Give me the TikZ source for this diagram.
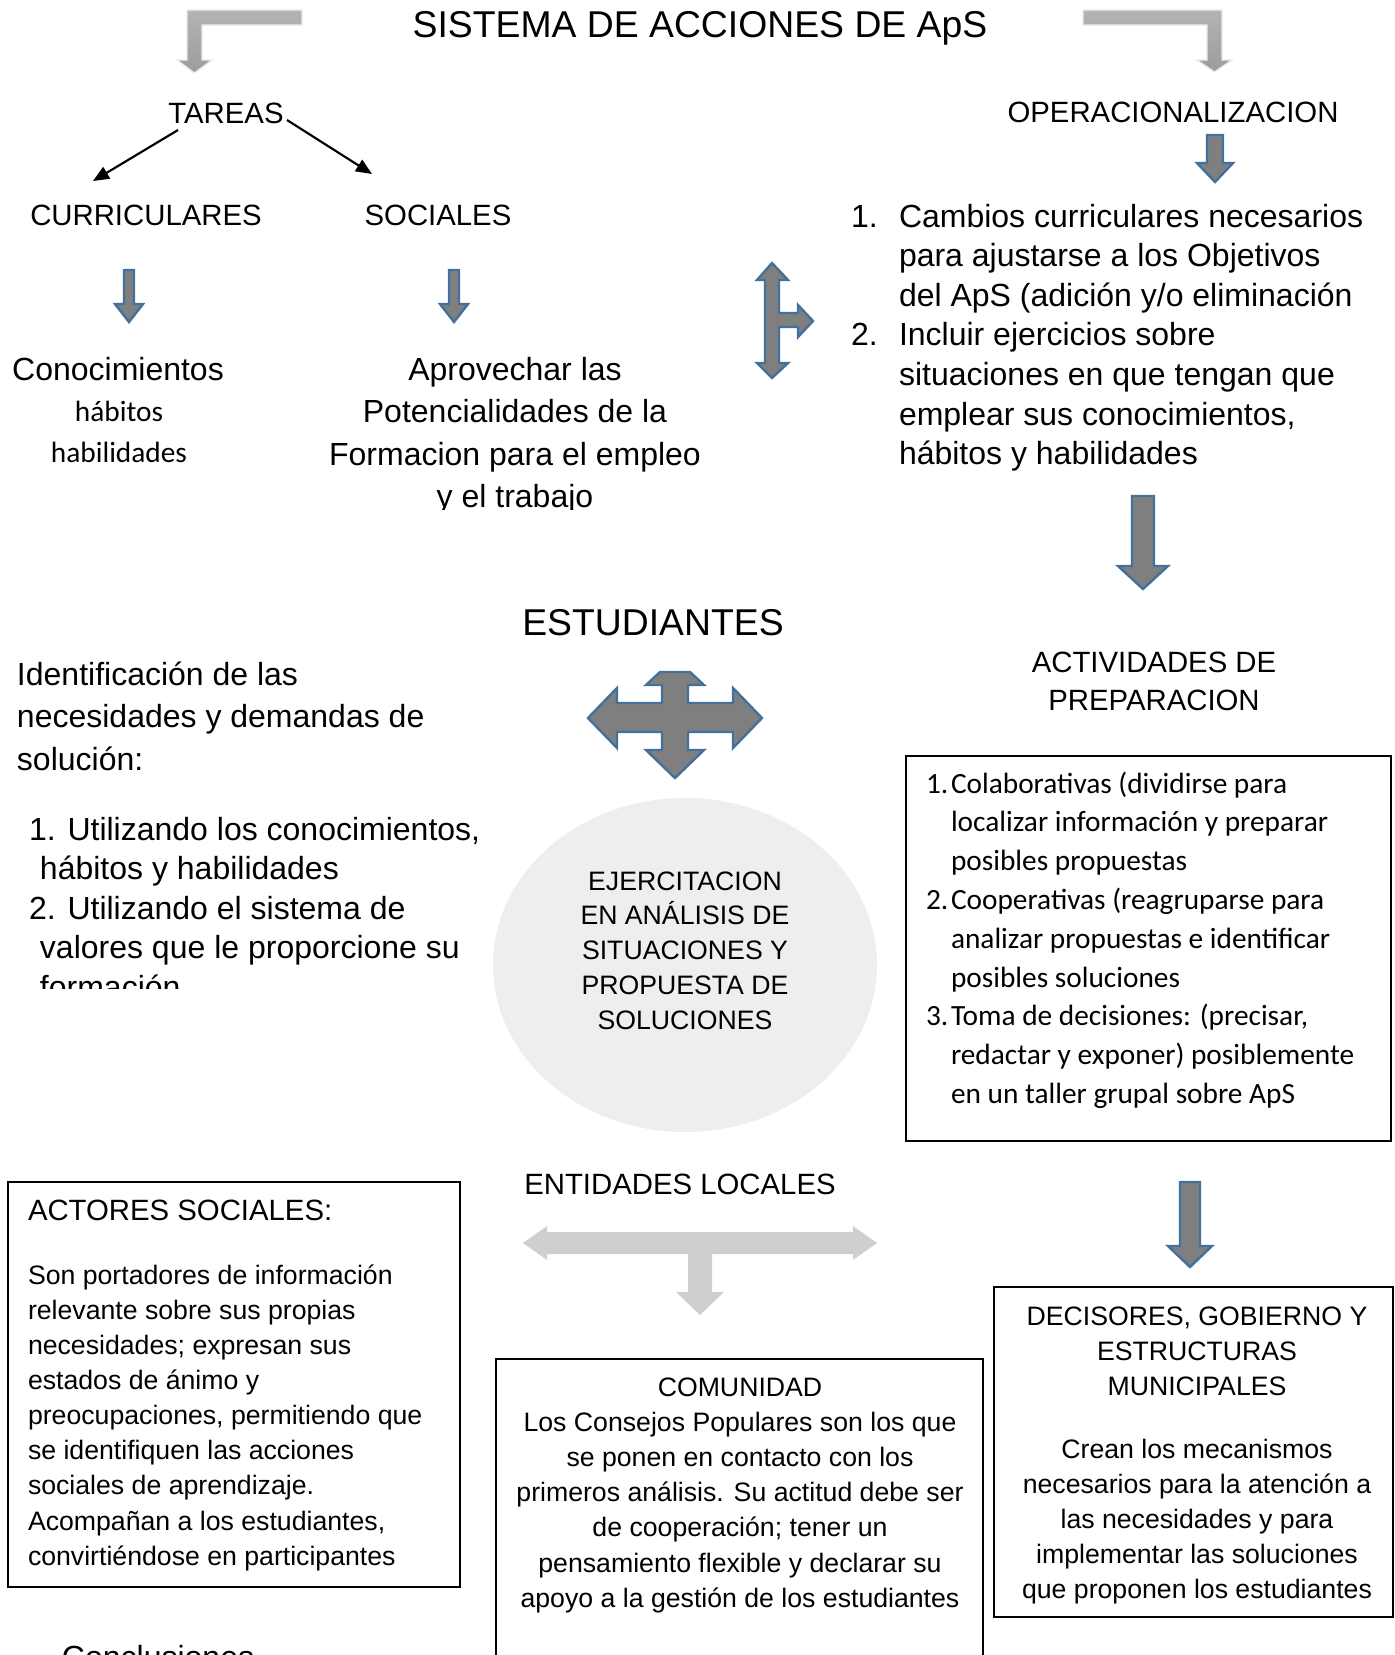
\documentclass[tikz,border=0pt]{standalone}
\usepackage{fontspec}
\setmainfont{Liberation Sans}
\newfontfamily\calfont{Carlito}
\usetikzlibrary{arrows.meta,shapes.geometric}
\definecolor{bluebd}{HTML}{41719C}
\definecolor{arrgray}{HTML}{7F7F7F}
\definecolor{lightarr}{HTML}{D0CED0}
\definecolor{ellfill}{HTML}{EEEEEE}
\definecolor{topgrayA}{HTML}{B4B4B4}
\definecolor{topgrayB}{HTML}{9C9C9C}
\begin{document}
\begin{tikzpicture}[x=0.375pt,y=-0.375pt,
  txt/.style={inner sep=0pt,outer sep=0pt,anchor=base},
  txtl/.style={inner sep=0pt,outer sep=0pt,anchor=base west},
  fA/.style={font=\fontsize{14}{17}\selectfont},
  fB/.style={font=\fontsize{12}{14}\selectfont},
  fC/.style={font=\fontsize{11}{13}\selectfont},
  fD/.style={font=\fontsize{10}{12}\selectfont},
  fcal/.style={font=\calfont\fontsize{11}{13}\selectfont},
  blockarrow/.style={fill=arrgray,draw=bluebd,line width=0.9pt,line join=miter},
  bentarrow/.style={top color=topgrayA,bottom color=topgrayB,draw=white!92!black,line width=0.5pt},
  lightarrow/.style={fill=lightarr},
  thinarrow/.style={line width=0.8pt,-{Triangle[length=6pt,width=5pt]}},
  framebox/.style={draw=black,line width=0.5pt}]
\useasboundingbox (0,0) rectangle (1395,1655);
\clip (0,0) rectangle (1395,1655);

% ---------- top ----------
\shade[bentarrow] (187,10) -- (302,10) -- (302,25) -- (202,25) -- (202,60) -- (212,60) -- (194.5,73) -- (177,60) -- (187,60) -- cycle;
\shade[bentarrow] (1083,10) -- (1222,10) -- (1222,60) -- (1232,60) -- (1214.5,72) -- (1197,60) -- (1207,60) -- (1207,25) -- (1083,25) -- cycle;
\node[txt,fA] (title) at (700,37) {SISTEMA DE ACCIONES DE ApS};

\node[txt,fC] (tareas) at (226,123) {TAREAS};
\node[txt,fC] (curr) at (146,225) {CURRICULARES};
\node[txt,fC] (soc) at (438,225) {SOCIALES};
\node[txt,fC] (oper) at (1173,122) {OPERACIONALIZACION};

\coordinate (tA) at (178,130);
\coordinate (tAend) at (93,181);
\coordinate (tB) at (287,120);
\coordinate (tBend) at (372,174);
\draw[thinarrow] (tA) -- (tAend);
\draw[thinarrow] (tB) -- (tBend);

\draw[blockarrow] (124,270) -- (134,270) -- (134,304) -- (143,304) -- (129,322) -- (115,304) -- (124,304) -- cycle;
\draw[blockarrow] (449,270) -- (459,270) -- (459,304) -- (468,304) -- (454,322) -- (440,304) -- (449,304) -- cycle;
\draw[blockarrow] (1207,135) -- (1223,135) -- (1223,163) -- (1233,163) -- (1215,182) -- (1197,163) -- (1207,163) -- cycle;

\node[txt,fB] (cono) at (118,380) {Conocimientos};
\node[txt,fcal] (habA) at (119,421) {hábitos};
\node[txt,fcal] (habB) at (119,462) {habilidades};

\begin{scope}
\clip (250,330) rectangle (780,509);
\foreach \t [count=\i] in {Aprovechar las,Potencialidades de la,Formacion para el empleo,y el trabajo}
  \node[txt,fB] (apro\i) at (515,{380+42.5*(\i-1)}) {\t};
\end{scope}

% double arrow with branch
\draw[blockarrow] (772,263) -- (788,280) -- (779,280) -- (779,313) -- (798,313) -- (798,305) -- (813,321) -- (798,337) -- (798,327) -- (779,327) -- (779,363) -- (788,363) -- (772,378) -- (757,363) -- (765,363) -- (765,280) -- (757,280) -- cycle;

% right list
\node[txtl,fB] (nA) at (851,227) {1.};
\node[txtl,fB] (nB) at (851,345.5) {2.};
\foreach \t [count=\i] in {Cambios curriculares necesarios,para ajustarse a los Objetivos,del ApS (adición y/o eliminación,Incluir ejercicios sobre,situaciones en que tengan que,{emplear sus conocimientos,},hábitos y habilidades}
  \node[txtl,fB] (ol\i) at (899,{227+39.6*(\i-1)}) {\t};

\draw[blockarrow] (1132,496) -- (1154,496) -- (1154,566) -- (1168,566) -- (1143,589) -- (1118,566) -- (1132,566) -- cycle;

% ---------- middle ----------
\node[txt,fA] (estud) at (653,635) {ESTUDIANTES};

\foreach \t [count=\i] in {Identificación de las,necesidades y demandas de,solución:}
  \node[txtl,fB] (ident\i) at (17,{685+42.5*(\i-1)}) {\t};

\begin{scope}
\clip (0,800) rectangle (500,988);
\node[txtl,fB] (la1) at (29,840) {1. Utilizando los conocimientos,};
\node[txtl,fB] (la2) at (40,879.5) {hábitos y habilidades};
\node[txtl,fB] (la3) at (29,919) {2. Utilizando el sistema de};
\node[txtl,fB] (la4) at (40,958.5) {valores que le proporcione su};
\node[txtl,fB] (la5) at (40,998) {formación};
\end{scope}

\draw[blockarrow] (660,672) -- (690,672) -- (704,685) -- (688,685) -- (688,703) -- (733,703) -- (733,688) -- (762,718) -- (733,748) -- (733,732) -- (688,732) -- (688,750) -- (704,750) -- (675,778) -- (646,750) -- (662,750) -- (662,732) -- (617,732) -- (617,748) -- (588,718) -- (617,688) -- (617,703) -- (662,703) -- (662,685) -- (646,685) -- cycle;

\node[ellipse,fill=ellfill,draw=none,minimum width=144pt,minimum height=125.25pt,inner sep=0pt] (ejer) at (685,965) {};
\foreach \t [count=\i] in {EJERCITACION,EN ANÁLISIS DE,SITUACIONES Y,PROPUESTA DE,SOLUCIONES}
  \node[txt,fD] (ej\i) at (685,{890+34.8*(\i-1)}) {\t};

\node[txt,fC] (activ1) at (1154,672) {ACTIVIDADES DE};
\node[txt,fC] (activ2) at (1154,710) {PREPARACION};

\draw[framebox] (906,756) rectangle (1391,1141);
\node[txtl,fcal] (bn1) at (926,793) {1.};
\node[txtl,fcal] (bn2) at (926,909.4) {2.};
\node[txtl,fcal] (bn3) at (926,1025.8) {3.};
\foreach \t [count=\i] in {Colaborativas (dividirse para,localizar información y preparar,posibles propuestas,Cooperativas (reagruparse para,analizar propuestas e identificar,posibles soluciones,{Toma de decisiones: (precisar,},redactar y exponer) posiblemente,en un taller grupal sobre ApS}
  \node[txtl,fcal] (bx\i) at (951,{793+38.8*(\i-1)}) {\t};

% ---------- bottom ----------
\node[txt,fC] (entid) at (680,1194) {ENTIDADES LOCALES};
\fill[lightarrow] (523,1243) -- (547,1226) -- (547,1232) -- (853,1232) -- (853,1226) -- (877,1243) -- (853,1260) -- (853,1254) -- (712,1254) -- (712,1292) -- (724,1292) -- (700,1315) -- (676,1292) -- (688,1292) -- (688,1254) -- (547,1254) -- (547,1260) -- cycle;

\draw[blockarrow] (1180,1182) -- (1200,1182) -- (1200,1246) -- (1212,1246) -- (1190,1267) -- (1168,1246) -- (1180,1246) -- cycle;

\draw[framebox] (8,1182) rectangle (460,1587);
\node[txtl,fC] (actT) at (28,1220) {ACTORES SOCIALES:};
\foreach \t [count=\i] in {Son portadores de información,relevante sobre sus propias,necesidades; expresan sus,estados de ánimo y,{preocupaciones, permitiendo que},se identifiquen las acciones,sociales de aprendizaje.,{Acompañan a los estudiantes,},convirtiéndose en participantes}
  \node[txtl,fD] (act\i) at (28,{1284+35.15*(\i-1)}) {\t};

\draw[framebox] (496,1359) rectangle (983,1700);
\node[txt,fD] (comT) at (740,1396) {COMUNIDAD};
\foreach \t [count=\i] in {Los Consejos Populares son los que,se ponen en contacto con los,primeros análisis. Su actitud debe ser,de cooperación; tener un,pensamiento flexible y declarar su,apoyo a la gestión de los estudiantes}
  \node[txt,fD] (com\i) at (740,{1431+35.3*(\i-1)}) {\t};

\draw[framebox] (994,1287) rectangle (1393,1617);
\foreach \t [count=\i] in {{DECISORES, GOBIERNO Y},ESTRUCTURAS,MUNICIPALES}
  \node[txt,fD] (decT\i) at (1197,{1325+35*(\i-1)}) {\t};
\foreach \t [count=\i] in {Crean los mecanismos,necesarios para la atención a,las necesidades y para,implementar las soluciones,que proponen los estudiantes}
  \node[txt,fD] (dec\i) at (1197,{1458+35*(\i-1)}) {\t};

\node[txtl,fB] (concl) at (62,1668) {Conclusiones};
\end{tikzpicture}
\end{document}
